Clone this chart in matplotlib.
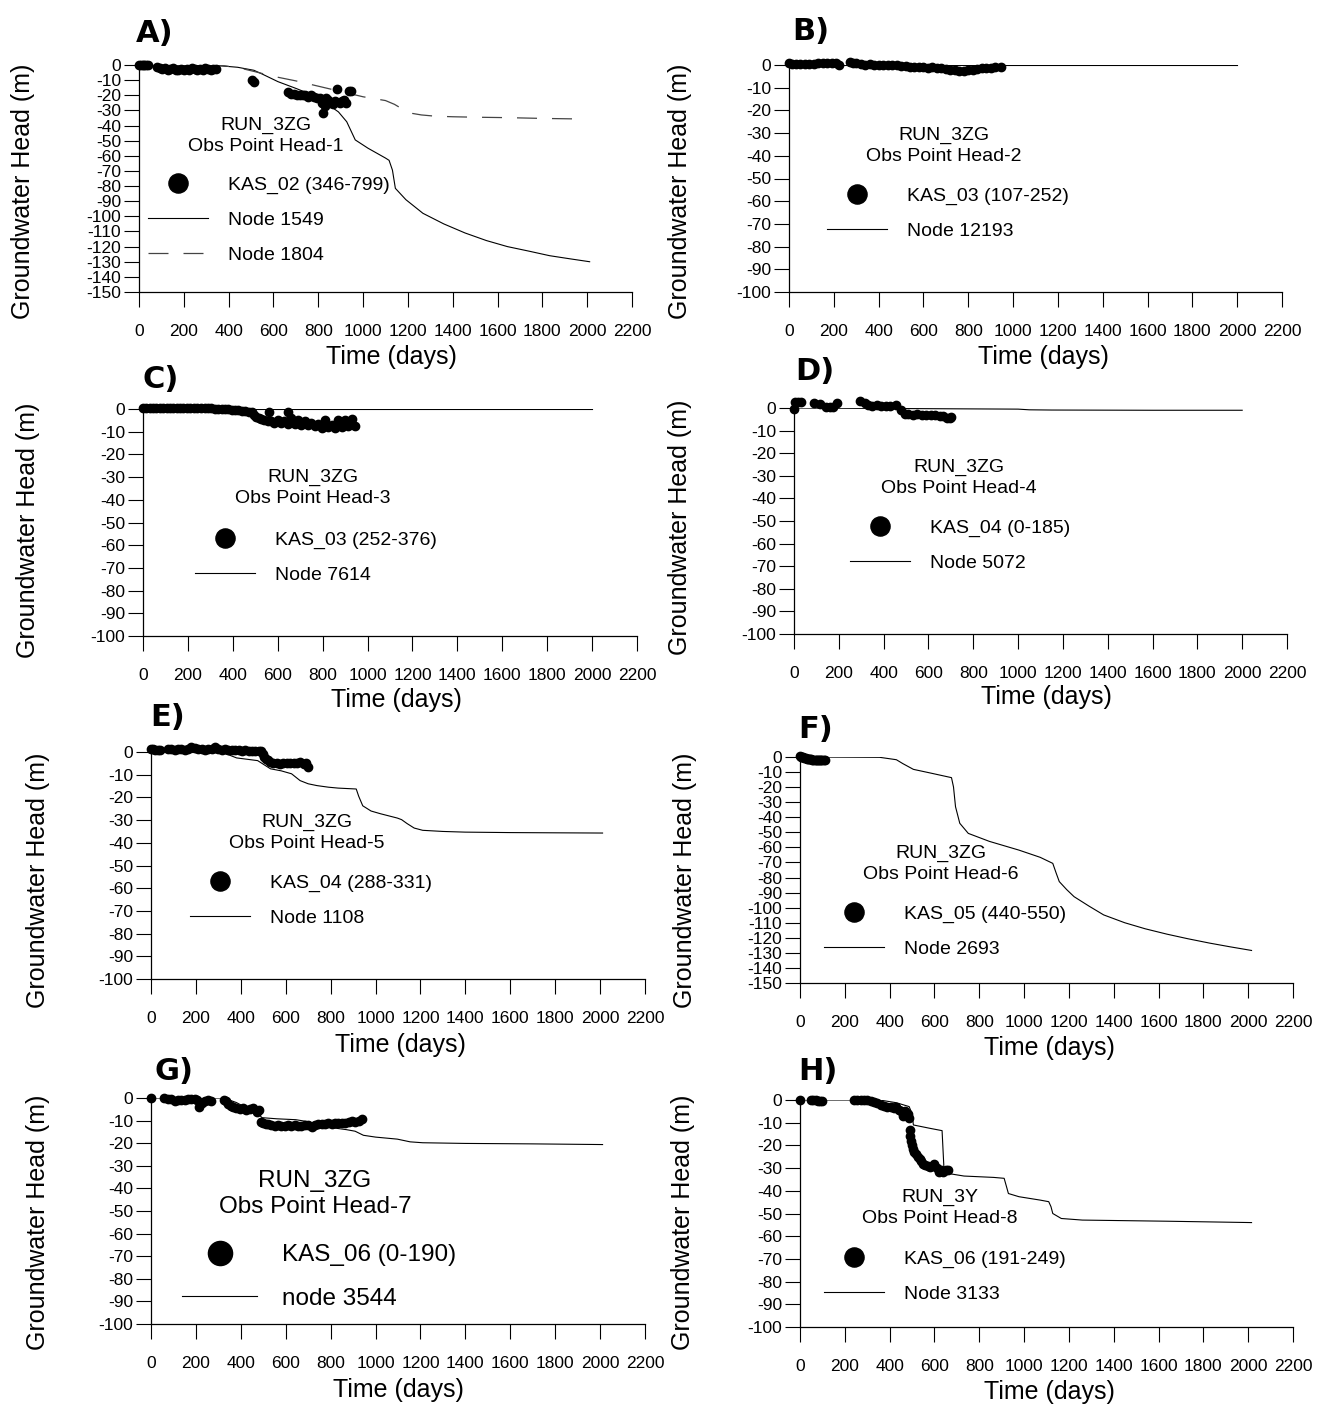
import matplotlib

matplotlib.use("Agg")
import matplotlib.pyplot as plt
from matplotlib import font_manager

W, H = 1319, 1416

plt.rcParams.update({
    "font.family": ["Liberation Sans", "DejaVu Sans"],
    "axes.linewidth": 0.9,
    "lines.linewidth": 0.8,
    "axes.unicode_minus": False,
})

# condensed face for the time-axis numbers when it is available
_names = {f.name for f in font_manager.fontManager.ttflist}
if "Liberation Sans Narrow" in _names:
    XTICK_FONT, XTICK_SIZE = "Liberation Sans Narrow", 14
else:
    XTICK_FONT, XTICK_SIZE = "Liberation Sans", 12.5

# ---- A) Obs Point Head-1 -------------------------------------------------
obs_a_t = [0, 8, 16, 24, 32, 40,
           80, 92, 104, 116, 128, 140, 152, 164, 176, 188, 200, 212, 224, 236,
           248, 260, 272, 284, 296, 308, 320, 332, 344,
           505, 515,
           665, 678, 691, 704, 717, 730, 743, 756, 769, 782, 795, 808,
           815, 822, 828, 835,
           845, 855, 865, 875, 885, 895, 905, 915, 925, 935, 945]
obs_a_h = [0, 0, 0, 0, -0.3, 0,
           -1.5, -2, -2.5, -2, -3, -2.5, -2, -3, -3.5, -2.5, -3, -2.5, -3, -2,
           -2.5, -3, -2.5, -3, -2, -2.5, -3, -2.5, -2.5,
           -10, -11,
           -18, -19, -19, -19.5, -20, -19.5, -20, -21, -20, -21, -22, -21.5,
           -25, -32, -27, -22,
           -23, -25, -26, -24, -16, -25, -24, -23, -25, -17, -17]
node1549_t = [0, 360, 440, 513, 550, 620, 701, 760, 814, 890, 927, 965, 1022,
              1070, 1100, 1116, 1131, 1144, 1191, 1267, 1360, 1455, 1550, 1644,
              1740, 1832, 1920, 2011]
node1549_h = [0, -0.5, -1.5, -3.5, -6, -11, -15.5, -19, -23, -31, -37.5, -49.5,
              -55, -59, -61.5, -63, -69.5, -81.5, -89, -98, -105, -111, -116,
              -120, -123, -126, -128, -130]
node1804_t = [0, 380, 450, 520, 600, 700, 800, 900, 1000, 1100, 1140, 1180,
              1220, 1260, 1320, 1400, 1500, 1650, 1800, 1985]
node1804_h = [0, -0.5, -2, -4.5, -7.5, -10.5, -14, -17.5, -21, -23.5, -26,
              -29.5, -32, -33, -33.8, -34.2, -34.5, -34.8, -35.3, -35.7]

# ---- B) Obs Point Head-2 -------------------------------------------------
obs_b_t = [0, 15, 30, 50, 70, 90, 110, 130, 150, 170, 190, 210, 225,
           270, 285, 300,
           320, 340, 360, 380, 400, 420, 440, 460, 480, 500, 520, 540, 560, 580,
           600, 620, 640, 660, 680, 700, 720, 740, 760, 780, 800, 820, 840, 860,
           880, 900, 920, 945]
obs_b_h = [1.0, 0.5, 0.5, 0.3, 0.3, 0.5, 0.5, 0.7, 0.8, 1.0, 1.0, 0.8, 0.0,
           1.2, 1.0, 0.8,
           0.3, 0.2, 0.3, 0.2, 0.2, 0.1, 0, 0, -0.2, -0.3, -0.5, -0.7, -0.8, -0.8,
           -1.0, -1.2, -1.0, -1.3, -1.5, -1.8, -2.0, -2.3, -2.5, -2.8, -2.3, -2.0,
           -1.8, -1.5, -1.3, -1.2, -1.0, -0.8]
node12193_t = [0, 2000]
node12193_h = [0, 0]

# ---- C) Obs Point Head-3 -------------------------------------------------
obs_c_t = [0, 15, 30, 45, 60, 75, 90, 105, 120, 135, 150, 165, 180, 195, 210,
           225, 240,
           260, 275, 290, 305, 320, 335, 350, 365, 380, 395, 410, 425, 440, 455,
           470,
           485, 495, 505, 515, 525, 540, 555, 560, 570, 585, 600, 615, 630, 645,
           645, 660, 675, 690, 705, 720, 735, 750, 765, 780, 795, 810, 825, 840,
           855, 870, 885, 900, 915, 930, 945]
obs_c_h = [0.5, 0.3, 0.3, 0.5, 0.3, 0.5, 0.3, 0.5, 0.3, 0.5, 0.3, 0.5, 0.3,
           0.5, 0.3, 0.5, 0.3,
           0.5, 0.5, 0.3, 0.3, 0.2, 0.2, 0, 0, -0.2, -0.3, -0.5, -0.5, -0.8,
           -1.0, -1.2,
           -1.5, -2.5, -3.5, -4, -4.5, -5, -5.5, -1.2, -5.5, -6, -5, -6, -5.5,
           -1.5, -6.5, -4, -6.5, -5, -7, -5.5, -7, -6, -7.5, -6.5, -8.5, -5,
           -8, -7, -8.5, -5, -8, -5, -7.5, -4.5, -7.5]
node7614_t = [0, 2000]
node7614_h = [0, 0]

# ---- D) Obs Point Head-4 -------------------------------------------------
obs_d_t = [0, 4, 18, 32,
           89, 117, 145, 160, 174, 193,
           296, 315, 330, 350, 370, 390, 410, 430, 457,
           476, 495, 510, 532, 551, 570, 590, 610, 630, 650, 665, 683, 695, 702]
obs_d_h = [-0.3, 2.7, 2.5, 2.7,
           2.2, 1.9, 0.4, 0.3, 0.4, 2.2,
           3.1, 2.2, 1.2, 1.0, 1.2, 0.8, 1.0, 0.8, 1.2,
           -1.0, -2.5, -2.8, -3.0, -2.8, -3.0, -3.2, -3.0, -3.2, -3.5, -3.5,
           -4.3, -4.5, -3.8]
node5072_t = [0, 400, 800, 1000, 1050, 1150, 1600, 2000]
node5072_h = [0, -0.2, -0.4, -0.5, -0.8, -0.9, -1.0, -1.0]

# ---- E) Obs Point Head-5 -------------------------------------------------
obs_e_t = [0, 10, 20, 30, 40,
           75, 90, 105, 120, 135, 150, 165, 180, 195, 210, 225, 240, 255, 270,
           285, 300, 315, 330, 345, 360, 375, 390, 405, 420, 435, 450, 465, 480,
           490, 498, 505, 512, 520, 530,
           545, 560, 575, 590, 605, 620, 635, 650, 665, 680,
           690, 700]
obs_e_h = [1.5, 1.5, 1.0, 0.8, 1.0,
           1.2, 1.5, 1.0, 1.5, 1.2, 1.0, 1.5, 2.0, 1.8, 1.5, 1.2, 1.0, 1.5, 1.2,
           2.0, 1.5, 1.0, 1.2, 1.0, 0.8, 1.0, 0.8, 0.5, 0.8, 0.5, 0.5, 0.5, 0.5,
           0.3, -1.0, -2.0, -3.0, -3.5, -4.5,
           -5.0, -5.0, -5.2, -4.8, -5.0, -5.0, -4.8, -5.0, -4.5, -5.5,
           -5.0, -6.5]
node1108_t = [0, 324, 381, 475, 532, 580, 626, 664, 700, 739, 790, 833, 914,
              925, 943, 980, 1022, 1097, 1116, 1140, 1172, 1210, 1300, 1399,
              1600, 1800, 2011]
node1108_h = [0, -0.4, -2.6, -3.8, -7.4, -8.3, -9.6, -12.6, -14, -14.8, -15.5,
              -15.9, -16.3, -19.5, -23.7, -26, -27.2, -29.1, -29.8, -31.5,
              -33.5, -34.5, -35, -35.3, -35.5, -35.6, -35.7]

# ---- F) Obs Point Head-6 -------------------------------------------------
obs_f_t = [0, 5, 10, 15, 20, 25, 30, 35, 40, 45, 50, 55, 60, 65, 70, 75, 80,
           85, 90, 95, 100, 105, 110]
obs_f_h = [0.5, 0.3, 0.0, -0.3, -0.5, -0.8, -1.0, -1.0, -1.2, -1.5, -1.5,
           -1.8, -1.8, -2.0, -2.0, -2.0, -2.2, -2.2, -2.0, -2.2, -2.0, -2.2, -2.0]
node2693_t = [0, 200, 355, 430, 459, 506, 581, 676, 685, 694, 713, 751, 845,
              977, 1072, 1128, 1143, 1157, 1190, 1223, 1290, 1355, 1449, 1540,
              1638, 1730, 1827, 1920, 2015]
node2693_h = [0, -0.1, -0.2, -1.8, -4.4, -8.2, -10.6, -13.7, -19.9, -33, -44,
              -50.7, -56, -61.8, -66.6, -70.6, -77, -82.7, -88, -92.7, -99,
              -104.8, -110, -114, -117.6, -120.6, -123.5, -126, -128.4]

# ---- G) Obs Point Head-7 -------------------------------------------------
obs_g_t = [0, 60, 75, 90, 105, 120, 135, 150, 165, 180, 195,
           205, 215, 225, 240, 255, 265,
           325, 335, 345, 355, 365,
           380, 395, 410, 425, 440, 455, 470,
           480, 490, 500, 510, 520,
           535, 550, 565, 580, 595, 610, 625, 640, 655, 670, 685, 700, 715, 730,
           745, 760, 775, 790, 805, 820, 835, 850, 865, 880, 895, 910, 925, 940]
obs_g_h = [0, 0, -0.3, -0.5, -1.5, -1.0, -1.0, -0.8, -0.5, -0.3, -0.5,
           -1.0, -4.0, -2.0, -1.5, -1.0, -1.5,
           -1.0, -1.5, -2.5, -3.5, -4.0,
           -4.5, -5.0, -4.5, -5.5, -5.0, -4.5, -6.0,
           -5.5, -10.5, -11.0, -11.5, -11.5,
           -12.0, -12.5, -12.0, -12.5, -12.5, -12.0, -12.5, -12.0, -12.5, -12.5,
           -12.0, -12.0, -13.0, -12.0, -11.5, -11.5, -11.5, -11.0, -11.5, -11.0,
           -11.0, -11.0, -11.0, -10.5, -10.0, -10.5, -10.0, -9.5]
node3544_t = [0, 324, 380, 418, 460, 494, 560, 645, 700, 795, 870, 909, 946,
              1000, 1097, 1154, 1210, 1399, 1700, 2011]
node3544_h = [0, 0, -2, -4, -5, -8.7, -9.2, -9.6, -10.5, -13, -14, -14.7,
              -16.5, -17.3, -18.2, -19.4, -19.8, -20.1, -20.3, -20.6]

# ---- H) Obs Point Head-8 -------------------------------------------------
obs_h_t = [0, 50, 60, 70, 80, 90, 100,
           240, 255, 270, 285, 300, 315, 330, 345, 360, 375, 390, 405, 420,
           430, 440, 450, 460, 470, 480,
           487, 490, 493, 496, 500, 505, 510,
           518, 526, 534, 542, 550,
           560, 570, 580, 590, 600, 610, 620, 630, 640, 650, 660]
obs_h_h = [0, 0, 0.2, -0.2, -0.5, -0.5, -0.3,
           0, 0, 0, 0, -0.2, -0.5, -1.0, -1.5, -2.0, -2.5, -3.0, -3.0, -3.5,
           -3.0, -4.5, -5.0, -7.0, -5.0, -6.0,
           -8.0, -13.0, -16.0, -18.0, -20.0, -21.5, -23.0,
           -24.0, -25.0, -26.0, -27.0, -28.0,
           -28.5, -29.0, -29.5, -29.0, -28.0, -30.0, -31.5, -31.0, -31.5, -31.0,
           -31.0]
node3133_t = [0, 355, 430, 487, 500, 506, 581, 634, 642, 657, 732, 864, 911,
              921, 930, 977, 1072, 1110, 1120, 1128, 1166, 1260, 1638, 2015]
node3133_h = [0, 0, -1.2, -2.9, -6, -11, -12.5, -13.5, -29.4, -32.3, -33.5,
              -34.1, -34.5, -38, -41.2, -42.6, -44.1, -44.8, -47, -50, -52.2,
              -52.9, -53.4, -54]

X_TICKS = list(range(0, 2201, 200))


fig = plt.figure(figsize=(W / 100, H / 100), dpi=100)


def fx(x):
    return x / W


def fy(y):
    return 1 - y / H


def panel(box, ymin, obs, lines, title, obs_label, letter, letter_xy,
          title_xy, ylab_xy, xlab_xy, leg_xy, fs=14, leg_scale=2.3):
    left, top, right, bottom = box
    ax = fig.add_axes([fx(left), fy(bottom), (right - left) / W,
                       (bottom - top) / H])
    ax.set_facecolor("none")
    ax.set_xlim(0, 2200)
    ax.set_ylim(ymin, 0)
    ax.set_xticks(X_TICKS)
    ax.set_yticks(list(range(ymin, 1, 10)))
    for s in ("top", "right"):
        ax.spines[s].set_visible(False)
    ax.tick_params(axis="x", direction="out", length=11, width=0.8, pad=12,
                   labelsize=XTICK_SIZE)
    ax.tick_params(axis="y", direction="out", length=11, width=0.8, pad=2,
                   labelsize=12.5)
    for lab in ax.get_xticklabels():
        lab.set_family([XTICK_FONT, "DejaVu Sans"])

    ax.plot(obs[0], obs[1], "o", ms=6, color="black", mec="black",
            clip_on=False, label=obs_label, zorder=3)
    for t, h, lab, dashed in lines:
        if dashed:
            ax.plot(t, h, color="#444444", lw=0.9, dashes=(16, 12), label=lab)
        else:
            ax.plot(t, h, color="black", lw=0.8, label=lab)

    ax.legend(loc="upper left", bbox_to_anchor=(fx(leg_xy[0]), fy(leg_xy[1])),
              bbox_transform=fig.transFigure, frameon=False, fontsize=fs,
              handlelength=3.1, handletextpad=1.0, labelspacing=0.9,
              borderpad=0, borderaxespad=0, markerscale=leg_scale,
              numpoints=1)

    fig.text(fx(title_xy[0]), fy(title_xy[1]), title, ha="center",
             va="center", fontsize=fs, linespacing=1.25)
    fig.text(fx(letter_xy[0]), fy(letter_xy[1]), letter, ha="left",
             va="center", fontsize=22, fontweight="heavy", family="DejaVu Sans")
    fig.text(fx(ylab_xy[0]), fy(ylab_xy[1]), "Groundwater Head (m)",
             rotation=90, ha="center", va="center", fontsize=18)
    fig.text(fx(xlab_xy[0]), fy(xlab_xy[1]), "Time (days)", ha="center",
             va="center", fontsize=18)
    return ax


panel((139, 65, 632, 292), -150, (obs_a_t, obs_a_h),
      [(node1549_t, node1549_h, "Node 1549", False),
       (node1804_t, node1804_h, "Node 1804", True)],
      "RUN_3ZG\nObs Point Head-1", "KAS_02 (346-799)", "A)", (136, 33),
      (266, 136), (23, 191), (391, 357), (148, 176))

panel((789, 65, 1282, 292), -100, (obs_b_t, obs_b_h),
      [(node12193_t, node12193_h, "Node 12193", False)],
      "RUN_3ZG\nObs Point Head-2", "KAS_03 (107-252)", "B)", (792, 31),
      (944, 146), (680, 191), (1043, 357), (827, 187))

panel((143, 409, 637, 636), -100, (obs_c_t, obs_c_h),
      [(node7614_t, node7614_h, "Node 7614", False)],
      "RUN_3ZG\nObs Point Head-3", "KAS_03 (252-376)", "C)", (142, 379),
      (313, 488), (28, 530), (396, 700), (195, 531))

panel((794, 408, 1287, 634), -100, (obs_d_t, obs_d_h),
      [(node5072_t, node5072_h, "Node 5072", False)],
      "RUN_3ZG\nObs Point Head-4", "KAS_04 (0-185)", "D)", (795, 372),
      (959, 478), (680, 527), (1046, 697), (850, 519))

panel((151, 752, 645, 979), -100, (obs_e_t, obs_e_h),
      [(node1108_t, node1108_h, "Node 1108", False)],
      "RUN_3ZG\nObs Point Head-5", "KAS_04 (288-331)", "E)", (150, 718),
      (307, 833), (38, 880), (400, 1045), (190, 874))

panel((800, 757, 1293, 983), -150, (obs_f_t, obs_f_h),
      [(node2693_t, node2693_h, "Node 2693", False)],
      "RUN_3ZG\nObs Point Head-6", "KAS_05 (440-550)", "F)", (798, 730),
      (941, 864), (685, 880), (1049, 1048), (824, 905))

panel((151, 1098, 645, 1324), -100, (obs_g_t, obs_g_h),
      [(node3544_t, node3544_h, "node 3544", False)],
      "RUN_3ZG\nObs Point Head-7", "KAS_06 (0-190)", "G)", (154, 1071),
      (315, 1194), (38, 1222), (398, 1390), (182, 1244), fs=17.5,
      leg_scale=2.9)

panel((800, 1100, 1293, 1327), -100, (obs_h_t, obs_h_h),
      [(node3133_t, node3133_h, "Node 3133", False)],
      "RUN_3Y\nObs Point Head-8", "KAS_06 (191-249)", "H)", (798, 1072),
      (940, 1208), (683, 1222), (1049, 1392), (824, 1250))

fig.savefig("out.png", dpi=100)
